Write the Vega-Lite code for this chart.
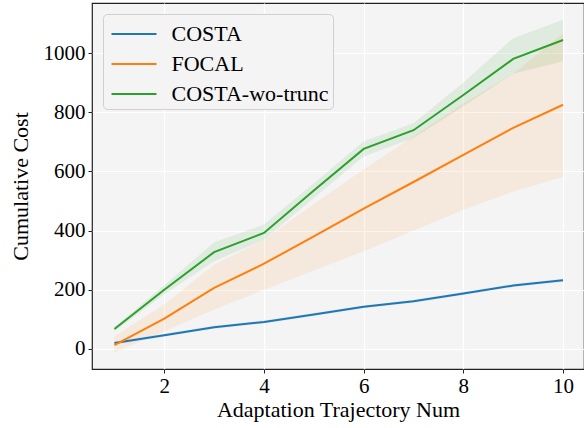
{
  "$schema": "https://vega.github.io/schema/vega-lite/v6.json",
  "width": 492,
  "height": 366,
  "autosize": "none",
  "padding": {"left": 92, "top": 3, "right": 0, "bottom": 59},
  "background": "white",
  "config": {
    "font": "Liberation Serif",
    "view": {"fill": "#f4f4f4", "stroke": "#222222", "strokeWidth": 1.2}
  },
  "data": {
    "values": [
      {"x": 1, "method": "COSTA", "mean": 20, "lo": 15, "hi": 25},
      {"x": 2, "method": "COSTA", "mean": 46, "lo": 41, "hi": 51},
      {"x": 3, "method": "COSTA", "mean": 73, "lo": 68, "hi": 78},
      {"x": 4, "method": "COSTA", "mean": 91, "lo": 86, "hi": 96},
      {"x": 5, "method": "COSTA", "mean": 116, "lo": 111, "hi": 121},
      {"x": 6, "method": "COSTA", "mean": 142, "lo": 137, "hi": 147},
      {"x": 7, "method": "COSTA", "mean": 161, "lo": 156, "hi": 166},
      {"x": 8, "method": "COSTA", "mean": 187, "lo": 182, "hi": 192},
      {"x": 9, "method": "COSTA", "mean": 214, "lo": 209, "hi": 219},
      {"x": 10, "method": "COSTA", "mean": 232, "lo": 227, "hi": 237},
      {"x": 1, "method": "FOCAL", "mean": 13, "lo": -11, "hi": 43},
      {"x": 2, "method": "FOCAL", "mean": 102, "lo": 60, "hi": 150},
      {"x": 3, "method": "FOCAL", "mean": 206, "lo": 133, "hi": 284},
      {"x": 4, "method": "FOCAL", "mean": 288, "lo": 200, "hi": 369},
      {"x": 5, "method": "FOCAL", "mean": 380, "lo": 265, "hi": 490},
      {"x": 6, "method": "FOCAL", "mean": 474, "lo": 330, "hi": 606},
      {"x": 7, "method": "FOCAL", "mean": 564, "lo": 400, "hi": 718},
      {"x": 8, "method": "FOCAL", "mean": 656, "lo": 470, "hi": 830},
      {"x": 9, "method": "FOCAL", "mean": 747, "lo": 532, "hi": 930},
      {"x": 10, "method": "FOCAL", "mean": 825, "lo": 581, "hi": 1067},
      {"x": 1, "method": "COSTA-wo-trunc", "mean": 67, "lo": 60, "hi": 74},
      {"x": 2, "method": "COSTA-wo-trunc", "mean": 200, "lo": 185, "hi": 215},
      {"x": 3, "method": "COSTA-wo-trunc", "mean": 327, "lo": 296, "hi": 360},
      {"x": 4, "method": "COSTA-wo-trunc", "mean": 392, "lo": 369, "hi": 420},
      {"x": 5, "method": "COSTA-wo-trunc", "mean": 535, "lo": 510, "hi": 560},
      {"x": 6, "method": "COSTA-wo-trunc", "mean": 676, "lo": 650, "hi": 702},
      {"x": 7, "method": "COSTA-wo-trunc", "mean": 739, "lo": 713, "hi": 763},
      {"x": 8, "method": "COSTA-wo-trunc", "mean": 858, "lo": 820, "hi": 900},
      {"x": 9, "method": "COSTA-wo-trunc", "mean": 980, "lo": 930, "hi": 1050},
      {"x": 10, "method": "COSTA-wo-trunc", "mean": 1044, "lo": 972, "hi": 1112}
    ]
  },
  "encoding": {
    "x": {
      "field": "x", "type": "quantitative",
      "scale": {"domain": [0.55, 10.42], "nice": false, "zero": false},
      "axis": {
        "title": "Adaptation Trajectory Num", "values": [2, 4, 6, 8, 10],
        "grid": true, "gridColor": "white", "gridWidth": 1.2,
        "domain": false, "tickColor": "#222222", "tickSize": 4,
        "labelFontSize": 21, "labelColor": "black", "labelPadding": 2,
        "titleFontSize": 22, "titleFontWeight": "normal", "titleColor": "black", "titlePadding": 3
      }
    },
    "color": {
      "field": "method", "type": "nominal",
      "scale": {"domain": ["COSTA", "FOCAL", "COSTA-wo-trunc"], "range": ["#1f77b4", "#ff7f0e", "#2ca02c"]},
      "legend": {
        "title": null, "orient": "top-left", "offset": 11,
        "symbolType": "M-1.5,0H1.5", "symbolSize": 900, "symbolStrokeWidth": 2, "symbolOpacity": 1,
        "symbolOffset": 11,
        "labelFontSize": 22, "labelColor": "black", "labelOffset": 21.5,
        "rowPadding": 3, "padding": 4,
        "fillColor": "#f4f4f4", "strokeColor": "#d0d0d0", "cornerRadius": 4
      }
    }
  },
  "layer": [
    {
      "mark": {"type": "area", "opacity": 0.1},
      "encoding": {
        "y": {"field": "lo", "type": "quantitative",
          "scale": {"domain": [-68, 1169], "nice": false, "zero": false},
          "axis": {
            "title": "Cumulative Cost", "values": [0, 200, 400, 600, 800, 1000], "format": "d",
            "grid": true, "gridColor": "white", "gridWidth": 1.2,
            "domain": false, "tickColor": "#222222", "tickSize": 4,
            "labelFontSize": 21, "labelColor": "black", "labelPadding": 3,
            "titleFontSize": 22, "titleFontWeight": "normal", "titleColor": "black", "titlePadding": 11
          }},
        "y2": {"field": "hi"}
      }
    },
    {
      "mark": {"type": "line", "strokeWidth": 2},
      "encoding": {
        "y": {"field": "mean", "type": "quantitative"}
      }
    }
  ]
}
